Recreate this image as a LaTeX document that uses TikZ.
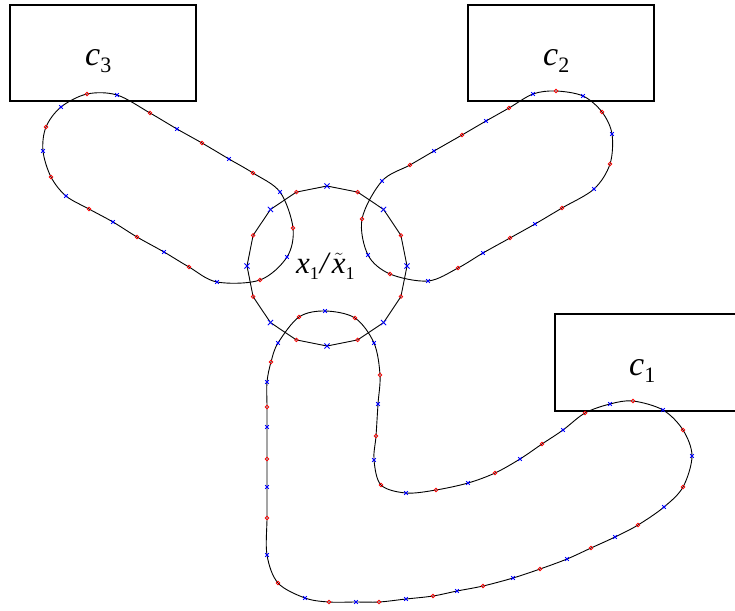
\documentclass[tikz,border=0pt]{standalone}
\usepackage{fontspec}
\newfontfamily\labelfont{Liberation Serif}
\usetikzlibrary{plotmarks,calc}

% one closed track: smooth black curve, red circles and blue crosses alternating
\newcommand\drawtrack[1]{%
  \draw[trackline] plot[smooth cycle, tension=0.55] coordinates {#1};
  \path plot[only marks, mark=o, mark repeat=2, mark phase=1,
             mark size=1.8pt, mark options={draw=red, line width=0.7pt}] coordinates {#1};
  \path plot[only marks, mark=x, mark repeat=2, mark phase=2,
             mark size=2.6pt, mark options={draw=blue, line width=0.8pt}] coordinates {#1};
}
\newcommand\clabel[1]{{\labelfont\fontsize{34}{36}\selectfont\textit{c}\raisebox{-7pt}{\fontsize{22}{22}\selectfont #1}}}
\newcommand\subone{\raisebox{-6pt}{\fontsize{18}{18}\selectfont 1}}

\tikzset{
  trackline/.style={black, line width=0.9pt},
  zonebox/.style={black, line width=1.7pt},
  lbl/.style={inner sep=0pt, anchor=base west},
  redmark/.style={draw=red, line width=0.7pt},
  bluemark/.style={draw=blue, line width=0.8pt},
}

\begin{document}
\begin{tikzpicture}[x=1pt, y=-1pt]
\useasboundingbox (0,0) rectangle (735,610);

% target regions
\draw[zonebox] (10,5) rectangle (196,101);
\draw[zonebox] (468,5) rectangle (654,101);
\draw[zonebox] (555,314) rectangle (745,411);
\node[lbl] (lc3) at (85,65) {\clabel{3}};
\node[lbl] (lc2) at (543,65) {\clabel{2}};
\node[lbl] (lc1) at (629,375) {\clabel{1}};

% tracks towards c3, c2 and c1
\drawtrack{(87,94) (117,95) (150,113) (177,129) (202,143) (229,159) (253,173) (280,192)
  (293,228) (287,257) (260,280) (217,282) (189,267) (164,252) (137,237) (113,222)
  (89,209) (66,196) (51,177) (43,151) (46,127) (61,107)}
\drawtrack{(556,91) (583,96) (602,112) (612,134) (610,164) (594,189) (562,208) (535,224)
  (510,238) (483,253) (458,268) (428,281) (390,274) (368,255) (362,219) (382,181)
  (410,165) (434,151) (462,135) (486,121) (509,108) (533,94)}
\drawtrack{(299,317) (325,311) (355,318) (374,343) (380,375) (378,404) (376,436) (374,460)
  (381,485) (406,493) (436,490) (468,483) (495,473) (520,459) (542,444) (563,430)
  (585,413) (610,404) (633,401) (663,410) (683,430) (692,456) (683,487) (664,507)
  (638,525) (615,537) (591,548) (567,559) (540,569) (513,578) (483,586) (457,591)
  (433,596) (406,599) (379,602) (356,602) (329,602) (305,598) (278,583) (267,555)
  (267,518) (267,487) (267,459) (267,427) (267,407) (267,382) (271,362) (278,343)}

% central sixteen-sided polygon
\foreach \k in {0,...,15} \coordinate (p\k) at ($(327,266)+(90+22.5*\k:80)$);
\draw[trackline] (p0) \foreach \k in {1,...,15} {-- (p\k)} -- cycle;
\foreach \k in {0,2,...,14}
  \draw[bluemark] ($(p\k)+(-2.6,-2.6)$) -- ($(p\k)+(2.6,2.6)$)
                  ($(p\k)+(-2.6,2.6)$) -- ($(p\k)+(2.6,-2.6)$);
\foreach \k in {1,3,...,15}
  \draw[redmark] (p\k) circle (1.8pt);

\node[lbl] (xlab) at (296,273) {\labelfont\fontsize{31}{32}\selectfont
  \textit{x}\subone\kern1pt\textit{/}\kern1pt$\tilde{\mbox{\textit{x}}}$\subone};
\end{tikzpicture}
\end{document}
